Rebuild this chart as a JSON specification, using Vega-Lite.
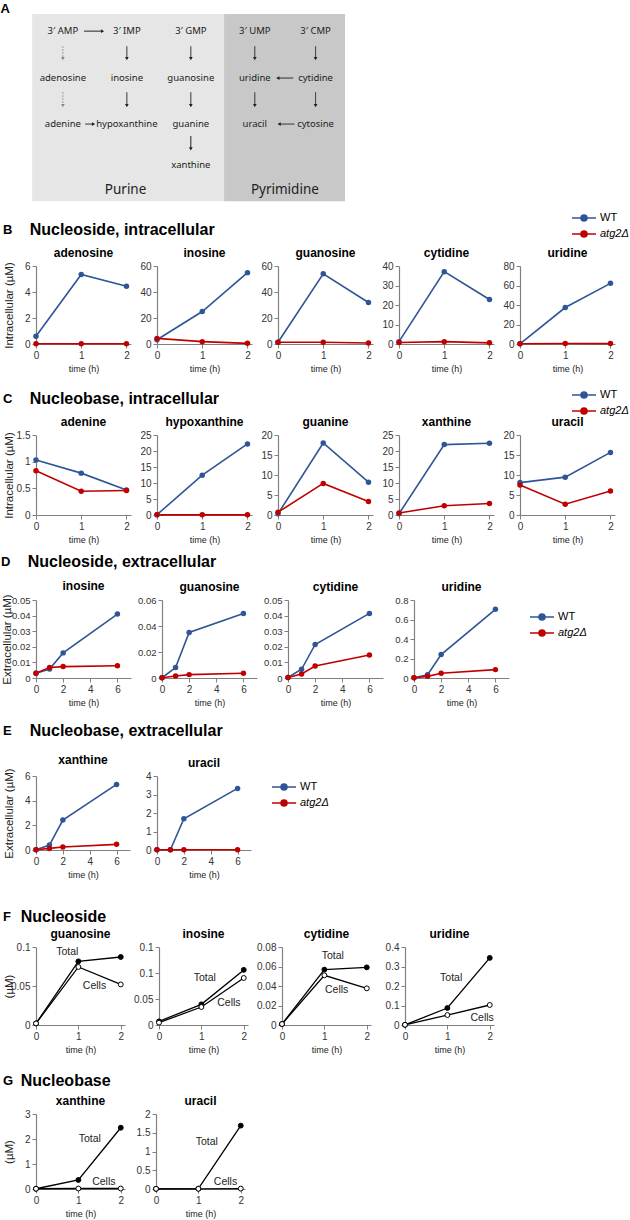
{
"$schema": "https://vega.github.io/schema/vega-lite/v6.json",
"background": "white",
"padding": {"left": 0, "top": 3, "right": 3, "bottom": 2},
"spacing": 0,
"resolve": {"scale": {"color": "independent"}, "legend": {"color": "independent"}},
"datasets": {
"boxes": [{"k":"pur","x":-0.48,"x2":2.52,"y":-0.37,"y2":3.7},{"k":"pyr","x":2.52,"x2":4.41,"y":-0.37,"y2":3.7}],
"arrows": [
{"k":"dotted","d":"down","x":0,"x2":0,"y":0.33,"y2":0.6},
{"k":"solid","d":"down","x":1,"x2":1,"y":0.33,"y2":0.6},
{"k":"solid","d":"down","x":2,"x2":2,"y":0.33,"y2":0.6},
{"k":"solid","d":"down","x":3,"x2":3,"y":0.33,"y2":0.6},
{"k":"solid","d":"down","x":3.95,"x2":3.95,"y":0.33,"y2":0.6},
{"k":"dotted","d":"down","x":0,"x2":0,"y":1.33,"y2":1.62},
{"k":"solid","d":"down","x":1,"x2":1,"y":1.33,"y2":1.62},
{"k":"solid","d":"down","x":2,"x2":2,"y":1.33,"y2":1.62},
{"k":"solid","d":"down","x":3,"x2":3,"y":1.33,"y2":1.62},
{"k":"solid","d":"down","x":3.95,"x2":3.95,"y":1.33,"y2":1.62},
{"k":"solid","d":"down","x":2,"x2":2,"y":2.28,"y2":2.56},
{"k":"solid","d":"right","x":0.33,"x2":0.62,"y":0,"y2":0},
{"k":"solid","d":"right","x":0.35,"x2":0.48,"y":2.02,"y2":2.02},
{"k":"solid","d":"left","x":3.6,"x2":3.36,"y":1.02,"y2":1.02},
{"k":"solid","d":"left","x":3.62,"x2":3.38,"y":2.02,"y2":2.02}
],
"nodes": [
{"lvl":"n","label":"3′ AMP","x":0,"y":0},{"lvl":"n","label":"3′ IMP","x":1,"y":0},{"lvl":"n","label":"3′ GMP","x":2,"y":0},{"lvl":"n","label":"3′ UMP","x":3,"y":0},{"lvl":"n","label":"3′ CMP","x":3.95,"y":0},
{"lvl":"n","label":"adenosine","x":0,"y":1.02},{"lvl":"n","label":"inosine","x":1,"y":1.02},{"lvl":"n","label":"guanosine","x":2,"y":1.02},{"lvl":"n","label":"uridine","x":3,"y":1.02},{"lvl":"n","label":"cytidine","x":3.95,"y":1.02},
{"lvl":"n","label":"adenine","x":0,"y":2.02},{"lvl":"n","label":"hypoxanthine","x":1,"y":2.02},{"lvl":"n","label":"guanine","x":2,"y":2.02},{"lvl":"n","label":"uracil","x":3,"y":2.02},{"lvl":"n","label":"cytosine","x":3.95,"y":2.02},
{"lvl":"n","label":"xanthine","x":2,"y":2.9},
{"lvl":"g","label":"Purine","x":0.98,"y":3.45},{"lvl":"g","label":"Pyrimidine","x":3.47,"y":3.45},
{"lvl":"p","label":"A","x":-0.9,"y":-0.48}
],
"ts": [
{"r":"B","p":"adenosine","s":"WT","t":0,"v":0.6},{"r":"B","p":"adenosine","s":"WT","t":1,"v":5.35},{"r":"B","p":"adenosine","s":"WT","t":2,"v":4.45},
{"r":"B","p":"adenosine","s":"atg2Δ","t":0,"v":0.02},{"r":"B","p":"adenosine","s":"atg2Δ","t":1,"v":0.02},{"r":"B","p":"adenosine","s":"atg2Δ","t":2,"v":0.02},
{"r":"B","p":"inosine","s":"WT","t":0,"v":3.3},{"r":"B","p":"inosine","s":"WT","t":1,"v":25},{"r":"B","p":"inosine","s":"WT","t":2,"v":54.9},
{"r":"B","p":"inosine","s":"atg2Δ","t":0,"v":4.3},{"r":"B","p":"inosine","s":"atg2Δ","t":1,"v":1.8},{"r":"B","p":"inosine","s":"atg2Δ","t":2,"v":0.5},
{"r":"B","p":"guanosine","s":"WT","t":0,"v":1.3},{"r":"B","p":"guanosine","s":"WT","t":1,"v":54},{"r":"B","p":"guanosine","s":"WT","t":2,"v":31.9},
{"r":"B","p":"guanosine","s":"atg2Δ","t":0,"v":1.3},{"r":"B","p":"guanosine","s":"atg2Δ","t":1,"v":1.3},{"r":"B","p":"guanosine","s":"atg2Δ","t":2,"v":0.8},
{"r":"B","p":"cytidine","s":"WT","t":0,"v":1.2},{"r":"B","p":"cytidine","s":"WT","t":1,"v":37.1},{"r":"B","p":"cytidine","s":"WT","t":2,"v":22.8},
{"r":"B","p":"cytidine","s":"atg2Δ","t":0,"v":0.8},{"r":"B","p":"cytidine","s":"atg2Δ","t":1,"v":1.2},{"r":"B","p":"cytidine","s":"atg2Δ","t":2,"v":0.6},
{"r":"B","p":"uridine","s":"WT","t":0,"v":0.2},{"r":"B","p":"uridine","s":"WT","t":1,"v":37.4},{"r":"B","p":"uridine","s":"WT","t":2,"v":62.2},
{"r":"B","p":"uridine","s":"atg2Δ","t":0,"v":0.2},{"r":"B","p":"uridine","s":"atg2Δ","t":1,"v":0.5},{"r":"B","p":"uridine","s":"atg2Δ","t":2,"v":0.4},
{"r":"C","p":"adenine","s":"WT","t":0,"v":1.03},{"r":"C","p":"adenine","s":"WT","t":1,"v":0.785},{"r":"C","p":"adenine","s":"WT","t":2,"v":0.47},
{"r":"C","p":"adenine","s":"atg2Δ","t":0,"v":0.83},{"r":"C","p":"adenine","s":"atg2Δ","t":1,"v":0.446},{"r":"C","p":"adenine","s":"atg2Δ","t":2,"v":0.458},
{"r":"C","p":"hypoxanthine","s":"WT","t":0,"v":0.1},{"r":"C","p":"hypoxanthine","s":"WT","t":1,"v":12.45},{"r":"C","p":"hypoxanthine","s":"WT","t":2,"v":22.2},
{"r":"C","p":"hypoxanthine","s":"atg2Δ","t":0,"v":0.05},{"r":"C","p":"hypoxanthine","s":"atg2Δ","t":1,"v":0.05},{"r":"C","p":"hypoxanthine","s":"atg2Δ","t":2,"v":0.05},
{"r":"C","p":"guanine","s":"WT","t":0,"v":0.3},{"r":"C","p":"guanine","s":"WT","t":1,"v":18.0},{"r":"C","p":"guanine","s":"WT","t":2,"v":8.2},
{"r":"C","p":"guanine","s":"atg2Δ","t":0,"v":0.7},{"r":"C","p":"guanine","s":"atg2Δ","t":1,"v":7.9},{"r":"C","p":"guanine","s":"atg2Δ","t":2,"v":3.4},
{"r":"C","p":"xanthine","s":"WT","t":0,"v":0.4},{"r":"C","p":"xanthine","s":"WT","t":1,"v":22.0},{"r":"C","p":"xanthine","s":"WT","t":2,"v":22.4},
{"r":"C","p":"xanthine","s":"atg2Δ","t":0,"v":0.6},{"r":"C","p":"xanthine","s":"atg2Δ","t":1,"v":2.9},{"r":"C","p":"xanthine","s":"atg2Δ","t":2,"v":3.6},
{"r":"C","p":"uracil","s":"WT","t":0,"v":8.1},{"r":"C","p":"uracil","s":"WT","t":1,"v":9.46},{"r":"C","p":"uracil","s":"WT","t":2,"v":15.65},
{"r":"C","p":"uracil","s":"atg2Δ","t":0,"v":7.5},{"r":"C","p":"uracil","s":"atg2Δ","t":1,"v":2.7},{"r":"C","p":"uracil","s":"atg2Δ","t":2,"v":6.0},
{"r":"D","p":"inosine","s":"WT","t":0,"v":0.003},{"r":"D","p":"inosine","s":"WT","t":1,"v":0.0058},{"r":"D","p":"inosine","s":"WT","t":2,"v":0.0161},{"r":"D","p":"inosine","s":"WT","t":6,"v":0.041},
{"r":"D","p":"inosine","s":"atg2Δ","t":0,"v":0.003},{"r":"D","p":"inosine","s":"atg2Δ","t":1,"v":0.0067},{"r":"D","p":"inosine","s":"atg2Δ","t":2,"v":0.0073},{"r":"D","p":"inosine","s":"atg2Δ","t":6,"v":0.0079},
{"r":"D","p":"guanosine","s":"WT","t":0,"v":0.0002},{"r":"D","p":"guanosine","s":"WT","t":1,"v":0.008},{"r":"D","p":"guanosine","s":"WT","t":2,"v":0.035},{"r":"D","p":"guanosine","s":"WT","t":6,"v":0.0497},
{"r":"D","p":"guanosine","s":"atg2Δ","t":0,"v":0.0002},{"r":"D","p":"guanosine","s":"atg2Δ","t":1,"v":0.0015},{"r":"D","p":"guanosine","s":"atg2Δ","t":2,"v":0.0026},{"r":"D","p":"guanosine","s":"atg2Δ","t":6,"v":0.0036},
{"r":"D","p":"cytidine","s":"WT","t":0,"v":0.0003},{"r":"D","p":"cytidine","s":"WT","t":1,"v":0.0056},{"r":"D","p":"cytidine","s":"WT","t":2,"v":0.0215},{"r":"D","p":"cytidine","s":"WT","t":6,"v":0.0414},
{"r":"D","p":"cytidine","s":"atg2Δ","t":0,"v":0.0003},{"r":"D","p":"cytidine","s":"atg2Δ","t":1,"v":0.0026},{"r":"D","p":"cytidine","s":"atg2Δ","t":2,"v":0.0077},{"r":"D","p":"cytidine","s":"atg2Δ","t":6,"v":0.0148},
{"r":"D","p":"uridine","s":"WT","t":0,"v":0.002},{"r":"D","p":"uridine","s":"WT","t":1,"v":0.034},{"r":"D","p":"uridine","s":"WT","t":2,"v":0.24},{"r":"D","p":"uridine","s":"WT","t":6,"v":0.704},
{"r":"D","p":"uridine","s":"atg2Δ","t":0,"v":0.002},{"r":"D","p":"uridine","s":"atg2Δ","t":1,"v":0.017},{"r":"D","p":"uridine","s":"atg2Δ","t":2,"v":0.048},{"r":"D","p":"uridine","s":"atg2Δ","t":6,"v":0.086},
{"r":"E","p":"xanthine","s":"WT","t":0,"v":0.02},{"r":"E","p":"xanthine","s":"WT","t":1,"v":0.4},{"r":"E","p":"xanthine","s":"WT","t":2,"v":2.43},{"r":"E","p":"xanthine","s":"WT","t":6,"v":5.32},
{"r":"E","p":"xanthine","s":"atg2Δ","t":0,"v":0.02},{"r":"E","p":"xanthine","s":"atg2Δ","t":1,"v":0.13},{"r":"E","p":"xanthine","s":"atg2Δ","t":2,"v":0.24},{"r":"E","p":"xanthine","s":"atg2Δ","t":6,"v":0.46},
{"r":"E","p":"uracil","s":"WT","t":0,"v":0.01},{"r":"E","p":"uracil","s":"WT","t":1,"v":0.01},{"r":"E","p":"uracil","s":"WT","t":2,"v":1.69},{"r":"E","p":"uracil","s":"WT","t":6,"v":3.33},
{"r":"E","p":"uracil","s":"atg2Δ","t":0,"v":0.01},{"r":"E","p":"uracil","s":"atg2Δ","t":1,"v":0.01},{"r":"E","p":"uracil","s":"atg2Δ","t":2,"v":0.01},{"r":"E","p":"uracil","s":"atg2Δ","t":6,"v":0.01}
],
"fg": [
{"r":"F","p":"guanosine","s":"Total","t":0,"v":0.002},{"r":"F","p":"guanosine","s":"Total","t":1,"v":0.0816},{"r":"F","p":"guanosine","s":"Total","t":2,"v":0.0872},
{"r":"F","p":"guanosine","s":"Cells","t":0,"v":0.002},{"r":"F","p":"guanosine","s":"Cells","t":1,"v":0.0744},{"r":"F","p":"guanosine","s":"Cells","t":2,"v":0.052},
{"r":"F","p":"inosine","s":"Total","t":0,"v":0.007},{"r":"F","p":"inosine","s":"Total","t":1,"v":0.0397},{"r":"F","p":"inosine","s":"Total","t":2,"v":0.106},
{"r":"F","p":"inosine","s":"Cells","t":0,"v":0.0045},{"r":"F","p":"inosine","s":"Cells","t":1,"v":0.0346},{"r":"F","p":"inosine","s":"Cells","t":2,"v":0.0904},
{"r":"F","p":"cytidine","s":"Total","t":0,"v":0.001},{"r":"F","p":"cytidine","s":"Total","t":1,"v":0.0568},{"r":"F","p":"cytidine","s":"Total","t":2,"v":0.0591},
{"r":"F","p":"cytidine","s":"Cells","t":0,"v":0.001},{"r":"F","p":"cytidine","s":"Cells","t":1,"v":0.051},{"r":"F","p":"cytidine","s":"Cells","t":2,"v":0.0376},
{"r":"F","p":"uridine","s":"Total","t":0,"v":0.001},{"r":"F","p":"uridine","s":"Total","t":1,"v":0.087},{"r":"F","p":"uridine","s":"Total","t":2,"v":0.344},
{"r":"F","p":"uridine","s":"Cells","t":0,"v":0.001},{"r":"F","p":"uridine","s":"Cells","t":1,"v":0.051},{"r":"F","p":"uridine","s":"Cells","t":2,"v":0.1026},
{"r":"G","p":"xanthine","s":"Total","t":0,"v":0.01},{"r":"G","p":"xanthine","s":"Total","t":1,"v":0.36},{"r":"G","p":"xanthine","s":"Total","t":2,"v":2.45},
{"r":"G","p":"xanthine","s":"Cells","t":0,"v":0.01},{"r":"G","p":"xanthine","s":"Cells","t":1,"v":0.02},{"r":"G","p":"xanthine","s":"Cells","t":2,"v":0.02},
{"r":"G","p":"uracil","s":"Total","t":0,"v":0.005},{"r":"G","p":"uracil","s":"Total","t":1,"v":0.01},{"r":"G","p":"uracil","s":"Total","t":2,"v":1.69},
{"r":"G","p":"uracil","s":"Cells","t":0,"v":0.005},{"r":"G","p":"uracil","s":"Cells","t":1,"v":0.005},{"r":"G","p":"uracil","s":"Cells","t":2,"v":0.01}
],
"lab": [
{"r":"F","p":"guanosine","s":"Total","t":0.74,"v":0.0936},{"r":"F","p":"guanosine","s":"Cells","t":1.38,"v":0.05},
{"r":"F","p":"inosine","s":"Total","t":1.08,"v":0.09},{"r":"F","p":"inosine","s":"Cells","t":1.65,"v":0.042},
{"r":"F","p":"cytidine","s":"Total","t":1.2,"v":0.0708},{"r":"F","p":"cytidine","s":"Cells","t":1.29,"v":0.036},
{"r":"F","p":"uridine","s":"Total","t":1.09,"v":0.24},{"r":"F","p":"uridine","s":"Cells","t":1.82,"v":0.036},
{"r":"G","p":"xanthine","s":"Total","t":1.27,"v":2.0},{"r":"G","p":"xanthine","s":"Cells","t":1.6,"v":0.28},
{"r":"G","p":"uracil","s":"Total","t":1.2,"v":1.25},{"r":"G","p":"uracil","s":"Cells","t":1.64,"v":0.19}
]
},
"vconcat": [
{
"width": 309, "height": 205,
"encoding": {
"x": {"field": "x", "type": "quantitative", "scale": {"domain": [-0.42, 4.41], "nice": false, "zero": false}, "axis": null},
"y": {"field": "y", "type": "quantitative", "scale": {"domain": [-0.59, 3.867], "nice": false, "zero": false, "reverse": true}, "axis": null}
},
"layer": [
{"data": {"name": "boxes"}, "mark": {"type": "rect"}, "encoding": {"x2": {"field": "x2"}, "y2": {"field": "y2"}, "fill": {"condition": {"test": "datum.k=='pyr'", "value": "#c8c8c8"}, "value": "#e6e6e6"}}},
{"data": {"name": "arrows"}, "mark": {"type": "rule", "strokeWidth": 1}, "encoding": {"x2": {"field": "x2"}, "y2": {"field": "y2"}, "strokeDash": {"field": "k", "type": "nominal", "scale": {"domain": ["solid", "dotted"], "range": [[1, 0], [1.5, 1.5]]}, "legend": null}, "stroke": {"condition": {"test": "datum.k=='dotted'", "value": "#888"}, "value": "#222"}}},
{"data": {"name": "arrows"}, "mark": {"type": "point", "filled": true, "size": 14, "opacity": 1}, "encoding": {"x": {"field": "x2", "type": "quantitative", "scale": {"domain": [-0.42, 4.41], "nice": false, "zero": false}, "axis": null}, "y": {"field": "y2", "type": "quantitative", "scale": {"domain": [-0.59, 3.867], "nice": false, "zero": false, "reverse": true}, "axis": null}, "shape": {"field": "d", "type": "nominal", "scale": {"domain": ["down", "right", "left"], "range": ["triangle-down", "triangle-right", "triangle-left"]}, "legend": null}, "fill": {"condition": {"test": "datum.k=='dotted'", "value": "#888"}, "value": "#222"}}},
{"data": {"name": "nodes"}, "transform": [{"filter": "datum.lvl=='n'"}], "mark": {"type": "text", "font": "Noto Sans", "fontSize": 9.5, "color": "#222"}, "encoding": {"text": {"field": "label"}}},
{"data": {"name": "nodes"}, "transform": [{"filter": "datum.lvl=='g'"}], "mark": {"type": "text", "font": "Noto Sans", "fontSize": 13.5, "color": "#222"}, "encoding": {"text": {"field": "label"}}},
{"data": {"name": "nodes"}, "transform": [{"filter": "datum.lvl=='p'"}], "mark": {"type": "text", "font": "Liberation Sans", "fontSize": 13, "fontWeight": "bold", "color": "black"}, "encoding": {"text": {"field": "label"}}}
]
},
{
"title": {"text": "B", "subtitle": "\u200b\u00a0\u00a0\u00a0\u00a0\u00a0\u00a0Nucleoside, intracellular", "anchor": "start", "frame": "bounds", "fontSize": 13, "subtitleFont": "Liberation Sans", "subtitleFontSize": 16, "subtitleFontWeight": "bold", "subtitleColor": "black", "subtitlePadding": -15, "offset": -31},
"spacing": 4,
"data": {"name": "ts"},
"hconcat": [
{"title": "adenosine", "width": 95, "height": 78, "transform": [{"filter": "datum.r=='B'&&datum.p=='adenosine'"}],
"encoding": {"x": {"field": "t", "type": "quantitative", "scale": {"domain": [0, 2.1], "nice": false}, "axis": {"values": [0, 1, 2], "title": "time (h)"}},
"y": {"field": "v", "type": "quantitative", "scale": {"domain": [0, 6], "nice": false}, "axis": {"values": [0, 2, 4, 6], "title": "Intracellular (µM)", "minExtent": 22, "maxExtent": 22, "titlePadding": 0}},
"color": {"field": "s", "type": "nominal", "scale": {"domain": ["WT", "atg2Δ"], "range": ["#2e5597", "#c00000"]}, "legend": {"title": null, "legendX": 539, "legendY": -57, "encode": {"symbols": {"update": {"fill": {"signal": "datum.value=='WT'?'#2e5597':'#c00000'"}}}, "labels": {"update": {"fontStyle": {"signal": "datum.value=='WT'?'normal':'italic'"}}}}}}},
"layer": [{"mark": "line"}, {"mark": "point"}]},
{"title": "inosine", "width": 95, "height": 78, "transform": [{"filter": "datum.r=='B'&&datum.p=='inosine'"}],
"encoding": {"x": {"field": "t", "type": "quantitative", "scale": {"domain": [0, 2.1], "nice": false}, "axis": {"values": [0, 1, 2], "title": "time (h)"}},
"y": {"field": "v", "type": "quantitative", "scale": {"domain": [0, 60], "nice": false}, "axis": {"values": [0, 20, 40, 60], "title": null, "minExtent": 22, "maxExtent": 22}},
"color": {"field": "s", "type": "nominal", "scale": {"domain": ["WT", "atg2Δ"], "range": ["#2e5597", "#c00000"]}, "legend": {"title": null, "legendX": 539, "legendY": -57, "encode": {"symbols": {"update": {"fill": {"signal": "datum.value=='WT'?'#2e5597':'#c00000'"}}}, "labels": {"update": {"fontStyle": {"signal": "datum.value=='WT'?'normal':'italic'"}}}}}}},
"layer": [{"mark": "line"}, {"mark": "point"}]},
{"title": "guanosine", "width": 95, "height": 78, "transform": [{"filter": "datum.r=='B'&&datum.p=='guanosine'"}],
"encoding": {"x": {"field": "t", "type": "quantitative", "scale": {"domain": [0, 2.1], "nice": false}, "axis": {"values": [0, 1, 2], "title": "time (h)"}},
"y": {"field": "v", "type": "quantitative", "scale": {"domain": [0, 60], "nice": false}, "axis": {"values": [0, 20, 40, 60], "title": null, "minExtent": 22, "maxExtent": 22}},
"color": {"field": "s", "type": "nominal", "scale": {"domain": ["WT", "atg2Δ"], "range": ["#2e5597", "#c00000"]}, "legend": {"title": null, "legendX": 539, "legendY": -57, "encode": {"symbols": {"update": {"fill": {"signal": "datum.value=='WT'?'#2e5597':'#c00000'"}}}, "labels": {"update": {"fontStyle": {"signal": "datum.value=='WT'?'normal':'italic'"}}}}}}},
"layer": [{"mark": "line"}, {"mark": "point"}]},
{"title": "cytidine", "width": 95, "height": 78, "transform": [{"filter": "datum.r=='B'&&datum.p=='cytidine'"}],
"encoding": {"x": {"field": "t", "type": "quantitative", "scale": {"domain": [0, 2.1], "nice": false}, "axis": {"values": [0, 1, 2], "title": "time (h)"}},
"y": {"field": "v", "type": "quantitative", "scale": {"domain": [0, 40], "nice": false}, "axis": {"values": [0, 10, 20, 30, 40], "title": null, "minExtent": 22, "maxExtent": 22}},
"color": {"field": "s", "type": "nominal", "scale": {"domain": ["WT", "atg2Δ"], "range": ["#2e5597", "#c00000"]}, "legend": {"title": null, "legendX": 539, "legendY": -57, "encode": {"symbols": {"update": {"fill": {"signal": "datum.value=='WT'?'#2e5597':'#c00000'"}}}, "labels": {"update": {"fontStyle": {"signal": "datum.value=='WT'?'normal':'italic'"}}}}}}},
"layer": [{"mark": "line"}, {"mark": "point"}]},
{"title": "uridine", "width": 95, "height": 78, "transform": [{"filter": "datum.r=='B'&&datum.p=='uridine'"}],
"encoding": {"x": {"field": "t", "type": "quantitative", "scale": {"domain": [0, 2.1], "nice": false}, "axis": {"values": [0, 1, 2], "title": "time (h)"}},
"y": {"field": "v", "type": "quantitative", "scale": {"domain": [0, 80], "nice": false}, "axis": {"values": [0, 20, 40, 60, 80], "title": null, "minExtent": 22, "maxExtent": 22}},
"color": {"field": "s", "type": "nominal", "scale": {"domain": ["WT", "atg2Δ"], "range": ["#2e5597", "#c00000"]}, "legend": {"title": null, "legendX": 539, "legendY": -57, "encode": {"symbols": {"update": {"fill": {"signal": "datum.value=='WT'?'#2e5597':'#c00000'"}}}, "labels": {"update": {"fontStyle": {"signal": "datum.value=='WT'?'normal':'italic'"}}}}}}},
"layer": [{"mark": "line"}, {"mark": "point"}]}
]
},
{
"title": {"text": ["\u200b", "C"], "lineHeight": 20, "subtitle": "\u200b\u00a0\u00a0\u00a0\u00a0\u00a0\u00a0Nucleobase, intracellular", "anchor": "start", "frame": "bounds", "fontSize": 13, "subtitleFont": "Liberation Sans", "subtitleFontSize": 16, "subtitleFontWeight": "bold", "subtitleColor": "black", "subtitlePadding": -15, "offset": -21},
"spacing": 4,
"data": {"name": "ts"},
"hconcat": [
{"title": "adenine", "width": 95, "height": 80, "transform": [{"filter": "datum.r=='C'&&datum.p=='adenine'"}],
"encoding": {"x": {"field": "t", "type": "quantitative", "scale": {"domain": [0, 2.1], "nice": false}, "axis": {"values": [0, 1, 2], "title": "time (h)"}},
"y": {"field": "v", "type": "quantitative", "scale": {"domain": [0, 1.5], "nice": false}, "axis": {"values": [0, 0.5, 1, 1.5], "title": "Intracellular (µM)", "minExtent": 22, "maxExtent": 22, "titlePadding": 0}},
"color": {"field": "s", "type": "nominal", "scale": {"domain": ["WT", "atg2Δ"], "range": ["#2e5597", "#c00000"]}, "legend": {"title": null, "legendX": 539, "legendY": -49, "encode": {"symbols": {"update": {"fill": {"signal": "datum.value=='WT'?'#2e5597':'#c00000'"}}}, "labels": {"update": {"fontStyle": {"signal": "datum.value=='WT'?'normal':'italic'"}}}}}}},
"layer": [{"mark": "line"}, {"mark": "point"}]},
{"title": "hypoxanthine", "width": 95, "height": 80, "transform": [{"filter": "datum.r=='C'&&datum.p=='hypoxanthine'"}],
"encoding": {"x": {"field": "t", "type": "quantitative", "scale": {"domain": [0, 2.1], "nice": false}, "axis": {"values": [0, 1, 2], "title": "time (h)"}},
"y": {"field": "v", "type": "quantitative", "scale": {"domain": [0, 25], "nice": false}, "axis": {"values": [0, 5, 10, 15, 20, 25], "title": null, "minExtent": 22, "maxExtent": 22}},
"color": {"field": "s", "type": "nominal", "scale": {"domain": ["WT", "atg2Δ"], "range": ["#2e5597", "#c00000"]}, "legend": {"title": null, "legendX": 539, "legendY": -49, "encode": {"symbols": {"update": {"fill": {"signal": "datum.value=='WT'?'#2e5597':'#c00000'"}}}, "labels": {"update": {"fontStyle": {"signal": "datum.value=='WT'?'normal':'italic'"}}}}}}},
"layer": [{"mark": "line"}, {"mark": "point"}]},
{"title": "guanine", "width": 95, "height": 80, "transform": [{"filter": "datum.r=='C'&&datum.p=='guanine'"}],
"encoding": {"x": {"field": "t", "type": "quantitative", "scale": {"domain": [0, 2.1], "nice": false}, "axis": {"values": [0, 1, 2], "title": "time (h)"}},
"y": {"field": "v", "type": "quantitative", "scale": {"domain": [0, 20], "nice": false}, "axis": {"values": [0, 5, 10, 15, 20], "title": null, "minExtent": 22, "maxExtent": 22}},
"color": {"field": "s", "type": "nominal", "scale": {"domain": ["WT", "atg2Δ"], "range": ["#2e5597", "#c00000"]}, "legend": {"title": null, "legendX": 539, "legendY": -49, "encode": {"symbols": {"update": {"fill": {"signal": "datum.value=='WT'?'#2e5597':'#c00000'"}}}, "labels": {"update": {"fontStyle": {"signal": "datum.value=='WT'?'normal':'italic'"}}}}}}},
"layer": [{"mark": "line"}, {"mark": "point"}]},
{"title": "xanthine", "width": 95, "height": 80, "transform": [{"filter": "datum.r=='C'&&datum.p=='xanthine'"}],
"encoding": {"x": {"field": "t", "type": "quantitative", "scale": {"domain": [0, 2.1], "nice": false}, "axis": {"values": [0, 1, 2], "title": "time (h)"}},
"y": {"field": "v", "type": "quantitative", "scale": {"domain": [0, 25], "nice": false}, "axis": {"values": [0, 5, 10, 15, 20, 25], "title": null, "minExtent": 22, "maxExtent": 22}},
"color": {"field": "s", "type": "nominal", "scale": {"domain": ["WT", "atg2Δ"], "range": ["#2e5597", "#c00000"]}, "legend": {"title": null, "legendX": 539, "legendY": -49, "encode": {"symbols": {"update": {"fill": {"signal": "datum.value=='WT'?'#2e5597':'#c00000'"}}}, "labels": {"update": {"fontStyle": {"signal": "datum.value=='WT'?'normal':'italic'"}}}}}}},
"layer": [{"mark": "line"}, {"mark": "point"}]},
{"title": "uracil", "width": 95, "height": 80, "transform": [{"filter": "datum.r=='C'&&datum.p=='uracil'"}],
"encoding": {"x": {"field": "t", "type": "quantitative", "scale": {"domain": [0, 2.1], "nice": false}, "axis": {"values": [0, 1, 2], "title": "time (h)"}},
"y": {"field": "v", "type": "quantitative", "scale": {"domain": [0, 20], "nice": false}, "axis": {"values": [0, 5, 10, 15, 20], "title": null, "minExtent": 22, "maxExtent": 22}},
"color": {"field": "s", "type": "nominal", "scale": {"domain": ["WT", "atg2Δ"], "range": ["#2e5597", "#c00000"]}, "legend": {"title": null, "legendX": 539, "legendY": -49, "encode": {"symbols": {"update": {"fill": {"signal": "datum.value=='WT'?'#2e5597':'#c00000'"}}}, "labels": {"update": {"fontStyle": {"signal": "datum.value=='WT'?'normal':'italic'"}}}}}}},
"layer": [{"mark": "line"}, {"mark": "point"}]}
]
},
{
"title": {"text": ["\u200b", "D"], "lineHeight": 11, "subtitle": "\u200b\u00a0\u00a0\u00a0\u00a0\u00a0\u00a0Nucleoside, extracellular", "anchor": "start", "frame": "bounds", "fontSize": 13, "subtitleFont": "Liberation Sans", "subtitleFontSize": 16, "subtitleFontWeight": "bold", "subtitleColor": "black", "subtitlePadding": -15, "offset": 10},
"spacing": 4,
"data": {"name": "ts"},
"hconcat": [
{"title": "inosine", "width": 95, "height": 78, "transform": [{"filter": "datum.r=='D'&&datum.p=='inosine'"}],
"encoding": {"x": {"field": "t", "type": "quantitative", "scale": {"domain": [0, 7], "nice": false}, "axis": {"values": [0, 2, 4, 6], "title": "time (h)"}},
"y": {"field": "v", "type": "quantitative", "scale": {"domain": [0, 0.05], "nice": false}, "axis": {"values": [0, 0.01, 0.02, 0.03, 0.04, 0.05], "title": "Extracellular (µM)", "labelFontSize": 9.5, "minExtent": 27, "maxExtent": 27, "titlePadding": -3}},
"color": {"field": "s", "type": "nominal", "scale": {"domain": ["WT", "atg2Δ"], "range": ["#2e5597", "#c00000"]}, "legend": {"title": null, "legendX": 497, "legendY": 8, "encode": {"symbols": {"update": {"fill": {"signal": "datum.value=='WT'?'#2e5597':'#c00000'"}}}, "labels": {"update": {"fontStyle": {"signal": "datum.value=='WT'?'normal':'italic'"}}}}}}},
"layer": [{"mark": "line"}, {"mark": "point"}]},
{"title": "guanosine", "width": 95, "height": 78, "transform": [{"filter": "datum.r=='D'&&datum.p=='guanosine'"}],
"encoding": {"x": {"field": "t", "type": "quantitative", "scale": {"domain": [0, 7], "nice": false}, "axis": {"values": [0, 2, 4, 6], "title": "time (h)"}},
"y": {"field": "v", "type": "quantitative", "scale": {"domain": [0, 0.06], "nice": false}, "axis": {"values": [0, 0.02, 0.04, 0.06], "title": null, "labelFontSize": 9.5, "minExtent": 27, "maxExtent": 27}},
"color": {"field": "s", "type": "nominal", "scale": {"domain": ["WT", "atg2Δ"], "range": ["#2e5597", "#c00000"]}, "legend": {"title": null, "legendX": 497, "legendY": 8, "encode": {"symbols": {"update": {"fill": {"signal": "datum.value=='WT'?'#2e5597':'#c00000'"}}}, "labels": {"update": {"fontStyle": {"signal": "datum.value=='WT'?'normal':'italic'"}}}}}}},
"layer": [{"mark": "line"}, {"mark": "point"}]},
{"title": "cytidine", "width": 95, "height": 78, "transform": [{"filter": "datum.r=='D'&&datum.p=='cytidine'"}],
"encoding": {"x": {"field": "t", "type": "quantitative", "scale": {"domain": [0, 7], "nice": false}, "axis": {"values": [0, 2, 4, 6], "title": "time (h)"}},
"y": {"field": "v", "type": "quantitative", "scale": {"domain": [0, 0.05], "nice": false}, "axis": {"values": [0, 0.01, 0.02, 0.03, 0.04, 0.05], "title": null, "labelFontSize": 9.5, "minExtent": 27, "maxExtent": 27}},
"color": {"field": "s", "type": "nominal", "scale": {"domain": ["WT", "atg2Δ"], "range": ["#2e5597", "#c00000"]}, "legend": {"title": null, "legendX": 497, "legendY": 8, "encode": {"symbols": {"update": {"fill": {"signal": "datum.value=='WT'?'#2e5597':'#c00000'"}}}, "labels": {"update": {"fontStyle": {"signal": "datum.value=='WT'?'normal':'italic'"}}}}}}},
"layer": [{"mark": "line"}, {"mark": "point"}]},
{"title": "uridine", "width": 95, "height": 78, "transform": [{"filter": "datum.r=='D'&&datum.p=='uridine'"}],
"encoding": {"x": {"field": "t", "type": "quantitative", "scale": {"domain": [0, 7], "nice": false}, "axis": {"values": [0, 2, 4, 6], "title": "time (h)"}},
"y": {"field": "v", "type": "quantitative", "scale": {"domain": [0, 0.8], "nice": false}, "axis": {"values": [0, 0.2, 0.4, 0.6, 0.8], "title": null, "labelFontSize": 9.5, "minExtent": 27, "maxExtent": 27}},
"color": {"field": "s", "type": "nominal", "scale": {"domain": ["WT", "atg2Δ"], "range": ["#2e5597", "#c00000"]}, "legend": {"title": null, "legendX": 497, "legendY": 8, "encode": {"symbols": {"update": {"fill": {"signal": "datum.value=='WT'?'#2e5597':'#c00000'"}}}, "labels": {"update": {"fontStyle": {"signal": "datum.value=='WT'?'normal':'italic'"}}}}}}},
"layer": [{"mark": "line"}, {"mark": "point"}]}
]
},
{
"title": {"text": ["\u200b", "E"], "lineHeight": 17, "subtitle": "\u200b\u00a0\u00a0\u00a0\u00a0\u00a0\u00a0Nucleobase, extracellular", "anchor": "start", "frame": "bounds", "fontSize": 13, "subtitleFont": "Liberation Sans", "subtitleFontSize": 16, "subtitleFontWeight": "bold", "subtitleColor": "black", "subtitlePadding": -15, "offset": 15},
"spacing": 4,
"data": {"name": "ts"},
"hconcat": [
{"title": "xanthine", "width": 94, "height": 74, "transform": [{"filter": "datum.r=='E'&&datum.p=='xanthine'"}],
"encoding": {"x": {"field": "t", "type": "quantitative", "scale": {"domain": [0, 7], "nice": false}, "axis": {"values": [0, 2, 4, 6], "title": "time (h)"}},
"y": {"field": "v", "type": "quantitative", "scale": {"domain": [0, 6], "nice": false}, "axis": {"values": [0, 2, 4, 6], "title": "Extracellular (µM)", "minExtent": 23, "maxExtent": 23, "titlePadding": -1}},
"color": {"field": "s", "type": "nominal", "scale": {"domain": ["WT", "atg2Δ"], "range": ["#2e5597", "#c00000"]}, "legend": {"title": null, "legendX": 239, "legendY": 2, "encode": {"symbols": {"update": {"fill": {"signal": "datum.value=='WT'?'#2e5597':'#c00000'"}}}, "labels": {"update": {"fontStyle": {"signal": "datum.value=='WT'?'normal':'italic'"}}}}}}},
"layer": [{"mark": "line"}, {"mark": "point"}]},
{"title": "uracil", "width": 94, "height": 74, "transform": [{"filter": "datum.r=='E'&&datum.p=='uracil'"}],
"encoding": {"x": {"field": "t", "type": "quantitative", "scale": {"domain": [0, 7], "nice": false}, "axis": {"values": [0, 2, 4, 6], "title": "time (h)"}},
"y": {"field": "v", "type": "quantitative", "scale": {"domain": [0, 4], "nice": false}, "axis": {"values": [0, 1, 2, 3, 4], "title": null, "minExtent": 23, "maxExtent": 23}},
"color": {"field": "s", "type": "nominal", "scale": {"domain": ["WT", "atg2Δ"], "range": ["#2e5597", "#c00000"]}, "legend": {"title": null, "legendX": 239, "legendY": 2, "encode": {"symbols": {"update": {"fill": {"signal": "datum.value=='WT'?'#2e5597':'#c00000'"}}}, "labels": {"update": {"fontStyle": {"signal": "datum.value=='WT'?'normal':'italic'"}}}}}}},
"layer": [{"mark": "line"}, {"mark": "point"}]}
]
},
{
"title": {"text": ["\u200b", "F"], "lineHeight": 32, "subtitle": "\u200b\u00a0\u00a0\u00a0\u00a0Nucleoside", "anchor": "start", "frame": "bounds", "fontSize": 13, "subtitleFont": "Liberation Sans", "subtitleFontSize": 16, "subtitleFontWeight": "bold", "subtitleColor": "black", "subtitlePadding": -15, "offset": 3},
"spacing": 4,
"hconcat": [
{"title": "guanosine", "width": 89, "height": 78,
"encoding": {"x": {"field": "t", "type": "quantitative", "scale": {"domain": [0, 2.1], "nice": false}, "axis": {"values": [0, 1, 2], "title": "time (h)"}},
"y": {"field": "v", "type": "quantitative", "scale": {"domain": [0, 0.1], "nice": false}, "axis": {"values": [0, 0.05, 0.1], "title": "(µM)", "minExtent": 29, "maxExtent": 29, "titlePadding": -7}}},
"layer": [
{"data": {"name": "fg"}, "transform": [{"filter": "datum.r=='F'&&datum.p=='guanosine'"}], "mark": {"type": "line", "color": "black", "strokeWidth": 1.3}, "encoding": {"detail": {"field": "s"}}},
{"data": {"name": "fg"}, "transform": [{"filter": "datum.r=='F'&&datum.p=='guanosine'"}], "mark": {"type": "point", "filled": true, "size": 24, "stroke": "black", "strokeWidth": 1, "opacity": 1}, "encoding": {"fill": {"field": "s", "type": "nominal", "scale": {"domain": ["Total", "Cells"], "range": ["black", "white"]}, "legend": null}}},
{"data": {"name": "lab"}, "transform": [{"filter": "datum.r=='F'&&datum.p=='guanosine'"}], "mark": {"type": "text", "font": "Liberation Sans", "fontSize": 10.5, "color": "#222"}, "encoding": {"text": {"field": "s"}}}
]},
{"title": "inosine", "width": 89, "height": 78,
"encoding": {"x": {"field": "t", "type": "quantitative", "scale": {"domain": [0, 2.1], "nice": false}, "axis": {"values": [0, 1, 2], "title": "time (h)"}},
"y": {"field": "v", "type": "quantitative", "scale": {"domain": [0, 0.15], "nice": false}, "axis": {"values": [0, 0.05, 0.1, 0.15], "title": null, "minExtent": 29, "maxExtent": 29}}},
"layer": [
{"data": {"name": "fg"}, "transform": [{"filter": "datum.r=='F'&&datum.p=='inosine'"}], "mark": {"type": "line", "color": "black", "strokeWidth": 1.3}, "encoding": {"detail": {"field": "s"}}},
{"data": {"name": "fg"}, "transform": [{"filter": "datum.r=='F'&&datum.p=='inosine'"}], "mark": {"type": "point", "filled": true, "size": 24, "stroke": "black", "strokeWidth": 1, "opacity": 1}, "encoding": {"fill": {"field": "s", "type": "nominal", "scale": {"domain": ["Total", "Cells"], "range": ["black", "white"]}, "legend": null}}},
{"data": {"name": "lab"}, "transform": [{"filter": "datum.r=='F'&&datum.p=='inosine'"}], "mark": {"type": "text", "font": "Liberation Sans", "fontSize": 10.5, "color": "#222"}, "encoding": {"text": {"field": "s"}}}
]},
{"title": "cytidine", "width": 89, "height": 78,
"encoding": {"x": {"field": "t", "type": "quantitative", "scale": {"domain": [0, 2.1], "nice": false}, "axis": {"values": [0, 1, 2], "title": "time (h)"}},
"y": {"field": "v", "type": "quantitative", "scale": {"domain": [0, 0.08], "nice": false}, "axis": {"values": [0, 0.02, 0.04, 0.06, 0.08], "title": null, "minExtent": 29, "maxExtent": 29}}},
"layer": [
{"data": {"name": "fg"}, "transform": [{"filter": "datum.r=='F'&&datum.p=='cytidine'"}], "mark": {"type": "line", "color": "black", "strokeWidth": 1.3}, "encoding": {"detail": {"field": "s"}}},
{"data": {"name": "fg"}, "transform": [{"filter": "datum.r=='F'&&datum.p=='cytidine'"}], "mark": {"type": "point", "filled": true, "size": 24, "stroke": "black", "strokeWidth": 1, "opacity": 1}, "encoding": {"fill": {"field": "s", "type": "nominal", "scale": {"domain": ["Total", "Cells"], "range": ["black", "white"]}, "legend": null}}},
{"data": {"name": "lab"}, "transform": [{"filter": "datum.r=='F'&&datum.p=='cytidine'"}], "mark": {"type": "text", "font": "Liberation Sans", "fontSize": 10.5, "color": "#222"}, "encoding": {"text": {"field": "s"}}}
]},
{"title": "uridine", "width": 89, "height": 78,
"encoding": {"x": {"field": "t", "type": "quantitative", "scale": {"domain": [0, 2.1], "nice": false}, "axis": {"values": [0, 1, 2], "title": "time (h)"}},
"y": {"field": "v", "type": "quantitative", "scale": {"domain": [0, 0.4], "nice": false}, "axis": {"values": [0, 0.1, 0.2, 0.3, 0.4], "title": null, "minExtent": 29, "maxExtent": 29}}},
"layer": [
{"data": {"name": "fg"}, "transform": [{"filter": "datum.r=='F'&&datum.p=='uridine'"}], "mark": {"type": "line", "color": "black", "strokeWidth": 1.3}, "encoding": {"detail": {"field": "s"}}},
{"data": {"name": "fg"}, "transform": [{"filter": "datum.r=='F'&&datum.p=='uridine'"}], "mark": {"type": "point", "filled": true, "size": 24, "stroke": "black", "strokeWidth": 1, "opacity": 1}, "encoding": {"fill": {"field": "s", "type": "nominal", "scale": {"domain": ["Total", "Cells"], "range": ["black", "white"]}, "legend": null}}},
{"data": {"name": "lab"}, "transform": [{"filter": "datum.r=='F'&&datum.p=='uridine'"}], "mark": {"type": "text", "font": "Liberation Sans", "fontSize": 10.5, "color": "#222"}, "encoding": {"text": {"field": "s"}}}
]}
]
},
{
"title": {"text": ["\u200b", "G"], "lineHeight": 21, "subtitle": "\u200b\u00a0\u00a0\u00a0\u00a0Nucleobase", "anchor": "start", "frame": "bounds", "fontSize": 13, "subtitleFont": "Liberation Sans", "subtitleFontSize": 16, "subtitleFontWeight": "bold", "subtitleColor": "black", "subtitlePadding": -15, "offset": 6},
"spacing": 4,
"hconcat": [
{"title": "xanthine", "width": 89, "height": 75,
"encoding": {"x": {"field": "t", "type": "quantitative", "scale": {"domain": [0, 2.1], "nice": false}, "axis": {"values": [0, 1, 2], "title": "time (h)"}},
"y": {"field": "v", "type": "quantitative", "scale": {"domain": [0, 3], "nice": false}, "axis": {"values": [0, 1, 2, 3], "title": "(µM)", "minExtent": 26, "maxExtent": 26, "titlePadding": -4}}},
"layer": [
{"data": {"name": "fg"}, "transform": [{"filter": "datum.r=='G'&&datum.p=='xanthine'"}], "mark": {"type": "line", "color": "black", "strokeWidth": 1.3}, "encoding": {"detail": {"field": "s"}}},
{"data": {"name": "fg"}, "transform": [{"filter": "datum.r=='G'&&datum.p=='xanthine'"}], "mark": {"type": "point", "filled": true, "size": 24, "stroke": "black", "strokeWidth": 1, "opacity": 1}, "encoding": {"fill": {"field": "s", "type": "nominal", "scale": {"domain": ["Total", "Cells"], "range": ["black", "white"]}, "legend": null}}},
{"data": {"name": "lab"}, "transform": [{"filter": "datum.r=='G'&&datum.p=='xanthine'"}], "mark": {"type": "text", "font": "Liberation Sans", "fontSize": 10.5, "color": "#222"}, "encoding": {"text": {"field": "s"}}}
]},
{"title": "uracil", "width": 89, "height": 75,
"encoding": {"x": {"field": "t", "type": "quantitative", "scale": {"domain": [0, 2.1], "nice": false}, "axis": {"values": [0, 1, 2], "title": "time (h)"}},
"y": {"field": "v", "type": "quantitative", "scale": {"domain": [0, 2], "nice": false}, "axis": {"values": [0, 0.5, 1, 1.5, 2], "title": null, "minExtent": 26, "maxExtent": 26}}},
"layer": [
{"data": {"name": "fg"}, "transform": [{"filter": "datum.r=='G'&&datum.p=='uracil'"}], "mark": {"type": "line", "color": "black", "strokeWidth": 1.3}, "encoding": {"detail": {"field": "s"}}},
{"data": {"name": "fg"}, "transform": [{"filter": "datum.r=='G'&&datum.p=='uracil'"}], "mark": {"type": "point", "filled": true, "size": 24, "stroke": "black", "strokeWidth": 1, "opacity": 1}, "encoding": {"fill": {"field": "s", "type": "nominal", "scale": {"domain": ["Total", "Cells"], "range": ["black", "white"]}, "legend": null}}},
{"data": {"name": "lab"}, "transform": [{"filter": "datum.r=='G'&&datum.p=='uracil'"}], "mark": {"type": "text", "font": "Liberation Sans", "fontSize": 10.5, "color": "#222"}, "encoding": {"text": {"field": "s"}}}
]}
]
}
],
"config": {
"font": "Liberation Sans",
"view": {"stroke": null},
"numberFormat": "~r",
"axis": {"grid": false, "domainColor": "#808080", "domainWidth": 1.2, "tickColor": "#808080", "tickSize": 4, "labelFont": "Liberation Sans", "labelFontSize": 10, "labelColor": "#333", "labelPadding": 2, "titleFont": "Liberation Sans", "titleFontWeight": "normal", "titleColor": "#222"},
"axisX": {"titleFontSize": 9, "titlePadding": 4, "labelFlush": false},
"axisY": {"titleFontSize": 11.5},
"title": {"font": "Liberation Sans", "fontSize": 12, "fontWeight": "bold", "color": "black", "offset": 1},
"line": {"strokeWidth": 1.6},
"point": {"filled": true, "size": 30, "opacity": 1},
"legend": {"orient": "none", "symbolType": "M-1.5,0H1.5M0.375,0A0.375,0.375,0,1,1,-0.375,0A0.375,0.375,0,1,1,0.375,0", "symbolSize": 256, "symbolStrokeWidth": 1.6, "labelFont": "Liberation Sans", "labelFontSize": 11, "labelColor": "black", "rowPadding": 0, "labelOffset": 7}
}
}
